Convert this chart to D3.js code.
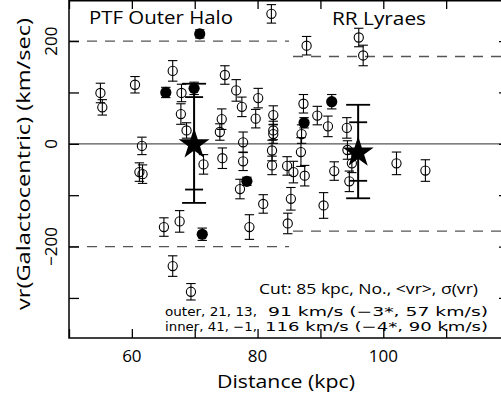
<!DOCTYPE html>
<html><head><meta charset="utf-8">
<script src="https://cdn.jsdelivr.net/npm/d3@7"></script>
<style>
body{margin:0;background:#fff}
svg{display:block}
text{font-family:"Open Sans","DejaVu Sans",sans-serif;font-weight:400;fill:#000}
text.row{font-family:"DejaVu Sans",sans-serif}
</style>
</head><body>
<svg id="c" width="501" height="402"></svg>
<script>
// ---------- data ----------
const xTickValues = [50, 60, 70, 80, 90, 100, 110, 120];
const xTickLabels = [60, 80, 100];
const yTickValues = [-300, -200, -100, 0, 100, 200];
const yTickLabels = [-200, 0, 200];

// open circles (individual RR Lyrae), distance kpc, vr km/s, error km/s
const openDist = [55.0, 55.3, 60.5, 61.6, 61.2, 61.7, 65.1, 66.5, 66.5, 67.6, 67.9, 67.8, 68.7, 69.4, 71.4,
  74.8, 74.3, 74.0, 74.4, 76.6, 77.5, 77.7, 77.7, 77.2, 78.7, 79.7, 80.1, 80.9, 82.2, 82.5, 82.5, 82.5,
  82.3, 82.3, 84.7, 84.8,
  85.7, 85.3, 86.9, 87.0, 87.3, 87.5, 87.8, 89.5, 90.5, 91.2, 92.2, 94.2, 94.3, 95.0, 94.6, 96.1, 96.8,
  102.1, 106.7];
const openVr = [99, 71, 115, -4, -55, -59, -162, 142, -238, -151, 99, 58, 26, -288, -40,
  134, 48, 23, -28, 104, 72, 3, -34, -88, -162, 49, 89, -117, 253, 56, 26, 19,
  -13, -42, -43, -155,
  -55, -107, -16, 19, 78, -62, 191, 55, -120, 34, -53, 31, -12, -38, -73, 207, 172,
  -38, -52];
const openErr = [19, 15, 16, 17, 18, 18, 18, 20, 20, 21, 17, 20, 15, 16, 19,
  18, 20, 16, 20, 21, 19, 20, 18, 19, 24, 18, 19, 18, 18, 18, 18, 18,
  20, 18, 18, 20,
  21, 22, 28, 18, 18, 20, 18, 18, 25, 20, 18, 20, 18, 18, 20, 18, 20,
  22, 21];

// filled circles
const fillDist = [65.4, 69.9, 70.8, 71.2, 78.3, 87.4, 91.8];
const fillVr = [100, 108, 214, -176, -73, 41, 82];
const fillErr = [10, 12, 8, 12, 8, 10, 14];

// sample means (stars): inner / outer
const starDist = [69.9, 96.0];
const starVr = [1, -15];
const starSigma = [116, 91];
const starSigmaStar = [90, 57];

// velocity cut limits
const cutDist = 85;
const limitInner = [200, -200];
const limitOuter = [170, -170];

const titleLeft = "PTF Outer Halo";
const titleRight = "RR Lyraes";
const xTitle = "Distance (kpc)";
const yTitle = "vr(Galactocentric) (km/sec)";
const noteHead = "Cut: 85 kpc, No., <vr>, σ(vr)";
const noteRows = [["outer, 21, 13,", "91 km/s (−3*, 57 km/s)"],
                  ["inner, 41, −1,", "116 km/s (−4*, 90 km/s)"]];

// ---------- layout ----------
const svg = d3.select("#c");
const L = 69, R = 509, T = 0, B = 338;
const x = d3.scaleLinear().domain([50, 120]).range([L, R]);
const y = d3.scaleLinear().domain([-378, 280]).range([B, T]);
const fmt = v => (v < 0 ? "−" + Math.abs(v) : String(v));

// dashed limits
const dash = svg.append("g").attr("stroke", "#555").attr("stroke-width", 1.3)
  .attr("stroke-dasharray", "10,8").attr("fill", "none");
limitInner.forEach(v => dash.append("line")
  .attr("x1", x(50)).attr("x2", x(cutDist)).attr("y1", y(v)).attr("y2", y(v)));
limitOuter.forEach(v => dash.append("line")
  .attr("x1", x(cutDist) + 4).attr("x2", x(120)).attr("y1", y(v)).attr("y2", y(v)));

// zero line
svg.append("line").attr("x1", x(50)).attr("x2", x(120)).attr("y1", y(0)).attr("y2", y(0))
  .attr("stroke", "#555").attr("stroke-width", 1.4);

// error bars helper
function errBar(g, cx, v, e, cap, sw) {
  g.append("line").attr("x1", cx).attr("x2", cx).attr("y1", y(v - e)).attr("y2", y(v + e))
    .attr("stroke", "#000").attr("stroke-width", sw);
  [v - e, v + e].forEach(t => g.append("line").attr("x1", cx - cap).attr("x2", cx + cap)
    .attr("y1", y(t)).attr("y2", y(t)).attr("stroke", "#000").attr("stroke-width", sw));
}

const gOpen = svg.append("g");
openDist.forEach((d, i) => {
  errBar(gOpen, x(d), openVr[i], openErr[i], 4.7, 1.1);
});
openDist.forEach((d, i) => {
  gOpen.append("circle").attr("cx", x(d)).attr("cy", y(openVr[i])).attr("r", 4.6)
    .attr("fill", "none").attr("stroke", "#000").attr("stroke-width", 1.1);
});

const gFill = svg.append("g");
fillDist.forEach((d, i) => {
  errBar(gFill, x(d), fillVr[i], fillErr[i], 4.7, 1.1);
  gFill.append("circle").attr("cx", x(d)).attr("cy", y(fillVr[i])).attr("r", 5.6).attr("fill", "#000");
});

// stars with sigma bars
const gStar = svg.append("g");
starDist.forEach((d, i) => {
  const cx = x(d);
  gStar.append("line").attr("x1", cx).attr("x2", cx)
    .attr("y1", y(starVr[i] - starSigma[i])).attr("y2", y(starVr[i] + starSigma[i]))
    .attr("stroke", "#000").attr("stroke-width", 2);
  [starVr[i] - starSigma[i], starVr[i] + starSigma[i]].forEach(t =>
    gStar.append("line").attr("x1", cx - 12).attr("x2", cx + 12).attr("y1", y(t)).attr("y2", y(t))
      .attr("stroke", "#000").attr("stroke-width", 1.8));
  [starVr[i] - starSigmaStar[i], starVr[i] + starSigmaStar[i]].forEach(t =>
    gStar.append("line").attr("x1", cx - 9).attr("x2", cx + 9).attr("y1", y(t)).attr("y2", y(t))
      .attr("stroke", "#000").attr("stroke-width", 1.8));
  gStar.append("path").attr("d", d3.symbol(d3.symbolStar, 300)())
    .attr("transform", `translate(${cx},${y(starVr[i]) + 1})`).attr("fill", "#000");
});

// frame
svg.append("rect").attr("x", L).attr("y", T + 0.75).attr("width", R - L).attr("height", B - T - 0.75)
  .attr("fill", "none").attr("stroke", "#000").attr("stroke-width", 1.5);

// axes (ticks inward)
const axB = svg.append("g").attr("transform", `translate(0,${B})`)
  .call(d3.axisBottom(x).tickValues(xTickValues).tickSize(-9).tickFormat(""));
const axT = svg.append("g").attr("transform", `translate(0,${T})`)
  .call(d3.axisTop(x).tickValues(xTickValues).tickSize(-9).tickFormat(""));
const axL = svg.append("g").attr("transform", `translate(${L},0)`)
  .call(d3.axisLeft(y).tickValues(yTickValues).tickSize(-10).tickFormat(""));
const axR = svg.append("g").attr("transform", `translate(${R},0)`)
  .call(d3.axisRight(y).tickValues(yTickValues).tickSize(-10).tickFormat(""));
[axB, axT, axL, axR].forEach(a => {
  a.select(".domain").remove();
  a.selectAll(".tick line").attr("stroke", "#000").attr("stroke-width", 1.3);
});

// tick labels
svg.append("g").selectAll("text").data(xTickLabels).join("text")
  .attr("x", d => x(d)).attr("y", 362).attr("text-anchor", "middle")
  .attr("font-size", 17).text(fmt);
svg.append("g").selectAll("text").data(yTickLabels).join("text")
  .attr("transform", d => `translate(57,${y(d)}) rotate(-90)`).attr("text-anchor", "middle")
  .attr("font-size", 17).text(fmt);

// titles
function fitText(str, x0, yb, w, fs) {
  return svg.append("text").attr("x", x0).attr("y", yb).attr("font-size", fs)
    .attr("textLength", w).attr("lengthAdjust", "spacingAndGlyphs").text(str);
}
fitText(titleLeft, 89, 24, 144, 18);
fitText(titleRight, 332, 25, 94, 18);
fitText(xTitle, 217, 388, 138, 18);
svg.append("text").attr("transform", "translate(30,164) rotate(-90)").attr("text-anchor", "middle")
  .attr("font-size", 18).attr("textLength", 292).attr("lengthAdjust", "spacingAndGlyphs").text(yTitle);

// annotation
fitText(noteHead, 259, 294, 219, 15);
fitText(noteRows[0][0], 165, 315.5, 92, 12.5).attr("class", "row");
fitText(noteRows[0][1], 268, 315.5, 220, 12.5).attr("class", "row");
fitText(noteRows[1][0], 165, 330.5, 92, 12.5).attr("class", "row");
fitText(noteRows[1][1], 265, 330.5, 223, 12.5).attr("class", "row");
</script>
</body></html>
